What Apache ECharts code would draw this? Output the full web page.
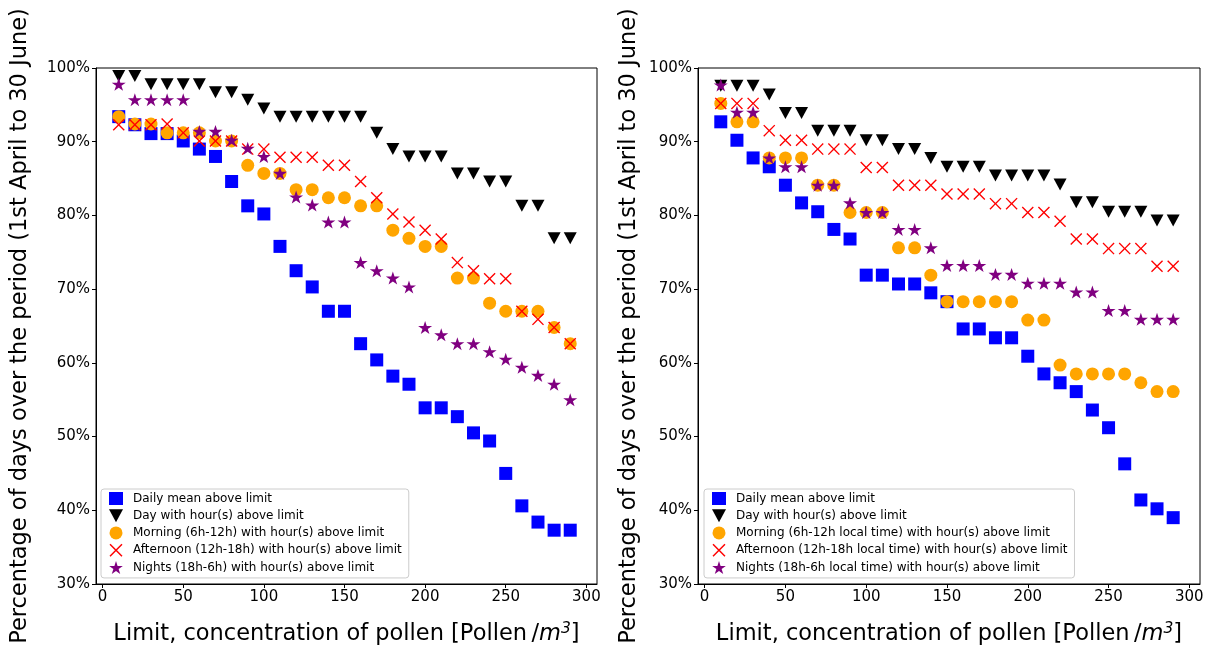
<!DOCTYPE html>
<html>
<head>
<meta charset="utf-8">
<script src="https://cdn.jsdelivr.net/npm/echarts@6/dist/echarts.min.js"></script>
<style>
  html, body { margin: 0; padding: 0; background: #fff; }
  #chart { width: 1213px; height: 646px; }
</style>
</head>
<body>
<div id="chart"></div>
<script>
// limits (Pollen/m3)
const limits = [10, 20, 30, 40, 50, 60, 70, 80, 90, 100, 110, 120, 130, 140, 150,
  160, 170, 180, 190, 200, 210, 220, 230, 240, 250, 260, 270, 280, 290];
const xTicks = [0, 50, 100, 150, 200, 250, 300];

// left panel
const leftDailyMean = [93.4, 92.3, 91.1, 91.1, 90.1, 89.0, 88.0, 84.6, 81.3, 80.2, 75.8, 72.5, 70.3, 67.0, 67.0,
  62.6, 60.4, 58.2, 57.1, 53.9, 53.9, 52.7, 50.5, 49.4, 45.0, 40.6, 38.4, 37.3, 37.3];
const leftDay = [98.9, 98.9, 97.8, 97.8, 97.8, 97.8, 96.7, 96.7, 95.7, 94.5, 93.4, 93.4, 93.4, 93.4, 93.4,
  93.4, 91.2, 89.0, 88.0, 88.0, 88.0, 85.7, 85.7, 84.6, 84.6, 81.3, 81.3, 76.9, 76.9];
const leftMorning = [93.4, 92.4, 92.4, 91.2, 91.2, 91.2, 90.1, 90.1, 86.8, 85.7, 85.7, 83.5, 83.5, 82.4, 82.4,
  81.3, 81.3, 78.0, 76.9, 75.8, 75.8, 71.5, 71.5, 68.1, 67.0, 67.0, 67.0, 64.8, 62.6];
const leftAfternoon = [92.3, 92.3, 92.3, 92.4, 91.2, 90.1, 90.1, 90.1, 89.0, 89.0, 87.9, 87.9, 87.9, 86.8, 86.8,
  84.6, 82.4, 80.2, 79.1, 78.0, 76.8, 73.6, 72.5, 71.4, 71.4, 67.0, 65.9, 64.8, 62.6];
const leftNights = [97.8, 95.7, 95.7, 95.7, 95.7, 91.4, 91.4, 90.2, 89.1, 88.0, 85.7, 82.5, 81.4, 79.1, 79.1,
  73.6, 72.5, 71.5, 70.3, 64.8, 63.8, 62.6, 62.6, 61.5, 60.5, 59.4, 58.3, 57.1, 55.0];

// right panel
const rightDailyMean = [92.7, 90.2, 87.8, 86.6, 84.1, 81.7, 80.5, 78.1, 76.8, 71.9, 71.9, 70.7, 70.7, 69.5, 68.3,
  64.6, 64.6, 63.4, 63.4, 60.9, 58.5, 57.3, 56.1, 53.6, 51.2, 46.3, 41.4, 40.2, 39.0];
const rightDay = [97.6, 97.6, 97.6, 96.4, 93.9, 93.9, 91.5, 91.5, 91.5, 90.2, 90.2, 89.0, 89.0, 87.8, 86.6,
  86.6, 86.6, 85.4, 85.4, 85.4, 85.4, 84.2, 81.8, 81.8, 80.5, 80.5, 80.5, 79.3, 79.3];
const rightMorning = [95.2, 92.7, 92.7, 87.8, 87.8, 87.8, 84.1, 84.1, 80.4, 80.4, 80.4, 75.6, 75.6, 71.9, 68.3,
  68.3, 68.3, 68.3, 68.3, 65.8, 65.8, 59.7, 58.5, 58.5, 58.5, 58.5, 57.3, 56.1, 56.1];
const rightAfternoon = [95.2, 95.2, 95.2, 91.5, 90.2, 90.2, 89.0, 89.0, 89.0, 86.5, 86.5, 84.1, 84.1, 84.1, 82.9,
  82.9, 82.9, 81.6, 81.6, 80.4, 80.4, 79.2, 76.8, 76.8, 75.5, 75.5, 75.5, 73.1, 73.1];
const rightNights = [97.7, 94.0, 94.0, 87.8, 86.6, 86.6, 84.1, 84.1, 81.7, 80.4, 80.4, 78.1, 78.1, 75.6, 73.2,
  73.2, 73.2, 72.0, 72.0, 70.8, 70.8, 70.8, 69.6, 69.6, 67.1, 67.1, 65.9, 65.9, 65.9];

const leftNames = [
  'Daily mean above limit',
  'Day with hour(s) above limit',
  'Morning (6h-12h) with hour(s) above limit',
  'Afternoon (12h-18h) with hour(s) above limit',
  'Nights (18h-6h) with hour(s) above limit'
];
const rightNames = [
  'Daily mean above limit',
  'Day with hour(s) above limit',
  'Morning (6h-12h local time) with hour(s) above limit',
  'Afternoon (12h-18h local time) with hour(s) above limit',
  'Nights (18h-6h local time) with hour(s) above limit'
];

const FONT = 'DejaVu Sans';
const crossPath = 'path://M0,1.6L1.6,0L10,8.4L18.4,0L20,1.6L11.6,10L20,18.4L18.4,20L10,11.6L1.6,20L0,18.4L8.4,10Z';
const starPath = 'path://M50,0L61.2,34.5L97.6,34.5L68.2,55.9L79.4,90.5L50,69.1L20.6,90.5L31.8,55.9L2.4,34.5L38.8,34.5Z';
const triDownPath = 'path://M0,0L20,0L10,18.5Z';

const markers = [
  { symbol: 'rect', symbolSize: 13, color: '#0000ff' },
  { symbol: triDownPath, symbolSize: [13, 12], color: '#000000' },
  { symbol: 'circle', symbolSize: 13, color: '#ffa500' },
  { symbol: crossPath, symbolSize: 12, color: '#ff0000' },
  { symbol: starPath, symbolSize: [14, 13], color: '#800080' }
];

function makeSeries(names, arrays, idx) {
  return arrays.map((arr, i) => ({
    name: names[i],
    type: 'scatter',
    xAxisIndex: idx,
    yAxisIndex: idx,
    symbol: markers[i].symbol,
    symbolSize: markers[i].symbolSize,
    itemStyle: { color: markers[i].color, opacity: 1 },
    emphasis: { disabled: true },
    z: 2 + i,
    data: limits.map((x, j) => [x, arr[j]])
  }));
}

function xAxisOf(idx) {
  return {
    type: 'value',
    gridIndex: idx,
    min: -4.1,
    max: 306.6,
    name: '{a|Limit, concentration of pollen [Pollen\u2009/}{i|m}{s|3}{a|]}',
    nameLocation: 'middle',
    nameGap: 37,
    nameTextStyle: {
      rich: {
        a: { fontFamily: FONT, fontSize: 22.5, color: '#000' },
        i: { fontFamily: FONT, fontSize: 22.5, fontStyle: 'italic', color: '#000' },
        s: { fontFamily: FONT, fontSize: 15.5, fontStyle: 'italic', color: '#000', verticalAlign: 'top', padding: [0, 0, 10, 0] }
      }
    },
    splitLine: { show: false },
    axisLine: { onZero: false, lineStyle: { color: '#000', width: 1 } },
    axisTick: { show: true, length: 4, lineStyle: { color: '#000' }, customValues: xTicks },
    axisLabel: { fontFamily: FONT, fontSize: 15, color: '#000', margin: 6, customValues: xTicks }
  };
}

function yAxisOf(idx, gap) {
  return {
    type: 'value',
    gridIndex: idx,
    min: 30,
    max: 100,
    interval: 10,
    name: 'Percentage of days over the period (1st April to 30 June)',
    nameLocation: 'middle',
    nameGap: gap,
    nameTextStyle: { fontFamily: FONT, fontSize: 22.5, color: '#000' },
    splitLine: { show: false },
    axisLine: { show: true, onZero: false, lineStyle: { color: '#000', width: 1 } },
    axisTick: { show: true, length: 4, lineStyle: { color: '#000' } },
    axisLabel: { fontFamily: FONT, fontSize: 15, color: '#000', margin: 6, formatter: '{value}%' }
  };
}

function legendOf(names, left) {
  return {
    data: names,
    orient: 'vertical',
    left: left,
    top: 489,
    itemWidth: 14,
    itemHeight: 13,
    itemGap: 4.25,
    padding: [3, 7, 4, 8],
    borderColor: '#cccccc',
    borderWidth: 1,
    borderRadius: 3,
    backgroundColor: 'rgba(255,255,255,0.8)',
    selectedMode: false,
    textStyle: { fontFamily: FONT, fontSize: 12, color: '#000', padding: [0, 0, 0, 5] }
  };
}

const chart = echarts.init(document.getElementById('chart'), null, { renderer: 'canvas' });
chart.setOption({
  animation: false,
  backgroundColor: '#fff',
  grid: [
    { left: 96, top: 68, width: 501, height: 516, outerBoundsMode: 'none', show: true, borderColor: '#000', borderWidth: 1, backgroundColor: 'transparent' },
    { left: 698, top: 68, width: 502, height: 516, outerBoundsMode: 'none', show: true, borderColor: '#000', borderWidth: 1, backgroundColor: 'transparent' }
  ],
  legend: [legendOf(leftNames, 101), legendOf(rightNames, 704)],
  xAxis: [xAxisOf(0), xAxisOf(1)],
  yAxis: [yAxisOf(0, 64), yAxisOf(1, 57)],
  series: makeSeries(leftNames, [leftDailyMean, leftDay, leftMorning, leftAfternoon, leftNights], 0)
    .concat(makeSeries(rightNames, [rightDailyMean, rightDay, rightMorning, rightAfternoon, rightNights], 1))
});
</script>
</body>
</html>
